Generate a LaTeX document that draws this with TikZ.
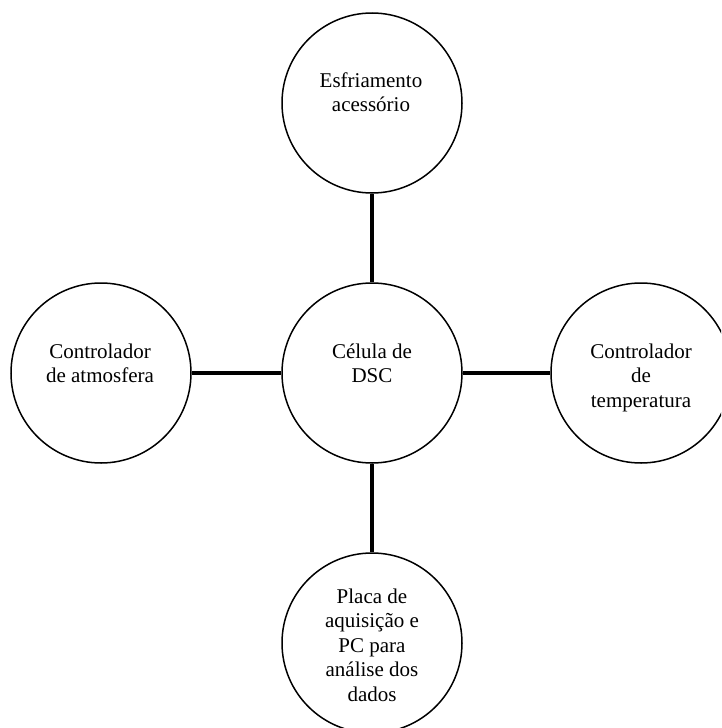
\documentclass[tikz,border=0pt]{standalone}
\usepackage{fontspec}
\setmainfont{Liberation Serif}
\newcommand\mylines[1]{\vtop{\baselineskip=24.5pt\lineskiplimit=-20pt\halign{\hfil##\hfil\cr#1\crcr}}}
\begin{document}
\begin{tikzpicture}[x=1pt,y=-1pt,
  circ/.style={draw=black,line width=1.5pt,circle,minimum size=180pt,inner sep=0pt,fill=white},
  txt/.style={anchor=base,inner sep=0pt,font=\fontsize{21}{24.5}\selectfont},
  conn/.style={line width=4.5pt,draw=black}]
\useasboundingbox (0,0) rectangle (721,728);
\clip (0,0) rectangle (721,728);
\fill[white] (0,0) rectangle (721,728);
\node[circ] (top) at (372,103) {};
\node[circ] (mid) at (372,373) {};
\node[circ] (left) at (101,373) {};
\node[circ] (right) at (641,373) {};
\node[circ] (bot) at (372,643) {};
\draw[conn] (top.south) -- (mid.north);
\draw[conn] (left.east) -- (mid.west);
\draw[conn] (mid.east) -- (right.west);
\draw[conn] (mid.south) -- (bot.north);
\node[txt] (ttop) at (371,87) {\mylines{Esfriamento\cr acessório}};
\node[txt] (tmid) at (372,358) {\mylines{Célula de\cr DSC}};
\node[txt] (tleft) at (100,358) {\mylines{Controlador\cr de atmosfera}};
\node[txt] (tright) at (641,358) {\mylines{Controlador\cr de\cr temperatura}};
\node[txt] (tbot) at (372,603) {\mylines{Placa de\cr aquisição e\cr PC para\cr análise dos\cr dados}};
\end{tikzpicture}
\end{document}
